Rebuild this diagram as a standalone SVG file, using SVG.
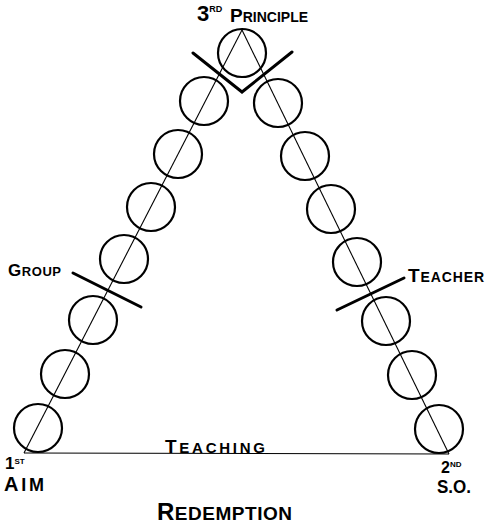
<svg xmlns="http://www.w3.org/2000/svg" width="489" height="526" viewBox="0 0 489 526">
<style>
.c{fill:none;stroke:#000;stroke-width:2.2}
.ln{stroke:#000;stroke-width:1.1;fill:none}
.bar{stroke:#000;stroke-width:3;fill:none;stroke-linecap:round}
text{font-family:"Liberation Sans",Arial,sans-serif;font-weight:bold;fill:#000}
</style>
<rect width="489" height="526" fill="#fff"/>
<g id="connectors">
<line class="ln" x1="242" y1="30" x2="24" y2="453"/>
<line class="ln" x1="242" y1="30" x2="449" y2="454"/>
<line class="ln" x1="24" y1="453" x2="449" y2="454" stroke-width="1.3"/>
</g>
<g id="circle-top"><circle class="c" cx="242" cy="53" r="24"/></g>
<g id="circle-l1"><circle class="c" cx="204" cy="101" r="24"/></g>
<g id="circle-l2"><circle class="c" cx="178" cy="154" r="24"/></g>
<g id="circle-l3"><circle class="c" cx="151" cy="207" r="24"/></g>
<g id="circle-l4"><circle class="c" cx="124" cy="259" r="24"/></g>
<g id="circle-l5"><circle class="c" cx="93" cy="320" r="24"/></g>
<g id="circle-l6"><circle class="c" cx="65" cy="374" r="24"/></g>
<g id="circle-l7"><circle class="c" cx="38" cy="428" r="24"/></g>
<g id="circle-r1"><circle class="c" cx="278" cy="103" r="24"/></g>
<g id="circle-r2"><circle class="c" cx="305" cy="156" r="24"/></g>
<g id="circle-r3"><circle class="c" cx="331" cy="209" r="24"/></g>
<g id="circle-r4"><circle class="c" cx="357" cy="262" r="24"/></g>
<g id="circle-r5"><circle class="c" cx="386" cy="321" r="24"/></g>
<g id="circle-r6"><circle class="c" cx="412" cy="375" r="24"/></g>
<g id="circle-r7"><circle class="c" cx="439" cy="429" r="24"/></g>
<g id="bar-top"><polyline class="bar" points="193,53 242,92 292,52"/></g>
<g id="bar-group"><line class="bar" x1="73" y1="273" x2="141" y2="307"/></g>
<g id="bar-teacher"><line class="bar" x1="337" y1="310" x2="404" y2="278"/></g>
<g id="label-principle"><text x="197" y="21"><tspan font-size="22">3</tspan><tspan dy="-9" font-size="9">RD</tspan><tspan x="230" dy="10" font-size="19">P</tspan><tspan font-size="14">RINCIPLE</tspan></text></g>
<g id="label-group"><text x="8" y="276" textLength="53" lengthAdjust="spacing"><tspan font-size="17">G</tspan><tspan font-size="13">ROUP</tspan></text></g>
<g id="label-teacher"><text x="408" y="282" textLength="76" lengthAdjust="spacing"><tspan font-size="19">T</tspan><tspan font-size="14">EACHER</tspan></text></g>
<g id="label-teaching"><text x="165" y="453" textLength="100" lengthAdjust="spacing"><tspan font-size="19">T</tspan><tspan font-size="15">EACHING</tspan></text></g>
<g id="label-aim"><text x="5" y="469"><tspan font-size="17">1</tspan><tspan dy="-5" font-size="8">ST</tspan></text><text x="4" y="491" textLength="40" lengthAdjust="spacing"><tspan font-size="20">A</tspan><tspan font-size="18">IM</tspan></text></g>
<g id="label-so"><text x="441" y="473"><tspan font-size="16">2</tspan><tspan dy="-6" font-size="8">ND</tspan></text><text x="437" y="493" font-size="18" textLength="34" lengthAdjust="spacingAndGlyphs">S.O.</text></g>
<g id="label-redemption"><text x="157" y="520" textLength="135" lengthAdjust="spacing"><tspan font-size="24">R</tspan><tspan font-size="19">EDEMPTION</tspan></text></g>
</svg>
